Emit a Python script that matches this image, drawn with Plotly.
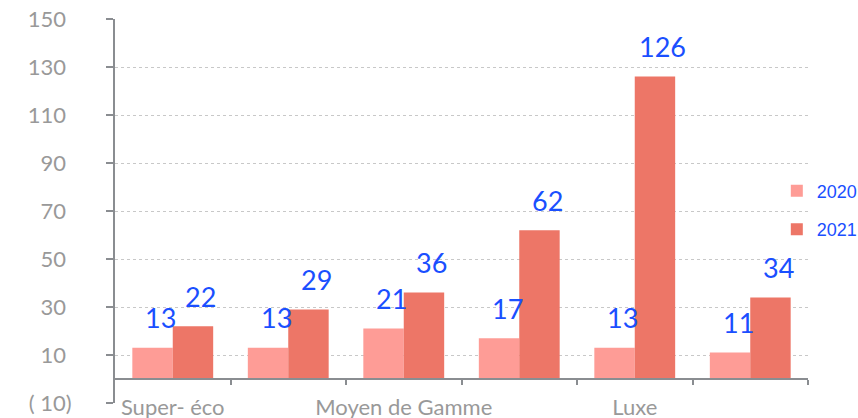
import plotly.graph_objects as go

# ---- data ----
categories = ["Super- éco", " ", "Moyen de Gamme", "  ", "Luxe", "   "]
series_names = ["2020", "2021"]
values_2020 = [13, 13, 21, 17, 13, 11]
values_2021 = [22, 29, 36, 62, 126, 34]
y_tickvals = [-10, 10, 30, 50, 70, 90, 110, 130, 150]
y_ticktext = ["( 10)", "10\u00a0", "30\u00a0", "50\u00a0", "70\u00a0",
              "90\u00a0", "110\u00a0", "130\u00a0", "150\u00a0"]

# ---- style ----
c2020 = "#FE9C96"
c2021 = "#ED7667"
axis_gray = "#8A8D91"
label_gray = "#999999"
blue = "#1A4FFF"
tick_font = dict(family="Lato, 'Open Sans', sans-serif", size=22, color=label_gray)

fig = go.Figure()
fig.add_trace(go.Bar(name=series_names[0], x=categories, y=values_2020,
                     marker=dict(color=c2020, line=dict(width=0)),
                     legendgroup="a"))
fig.add_trace(go.Bar(name=series_names[1], x=categories, y=values_2021,
                     marker=dict(color=c2021, line=dict(width=0)),
                     legendgroup="b"))
# helper (empty) trace so the secondary x axis at y=0 is drawn
fig.add_trace(go.Scatter(x=[], y=[], xaxis="x2", showlegend=False, hoverinfo="skip"))

annotations = []
for vals, dx in ((values_2020, -12), (values_2021, 28)):
    for cat, v in zip(categories, vals):
        annotations.append(dict(x=cat, y=v, xref="x", yref="y", text=str(v),
                                showarrow=False, xshift=dx, yshift=30,
                                yanchor="middle", xanchor="center",
                                font=dict(family="Lato, 'Liberation Sans', sans-serif",
                                          size=27, color=blue)))

n = len(categories)
boundaries = [i + 0.5 for i in range(n)]

fig.update_layout(
    width=858, height=418,
    margin=dict(l=115, r=50, t=19, b=15, autoexpand=False),
    paper_bgcolor="white", plot_bgcolor="white",
    barmode="group", bargap=0.3, bargroupgap=0,
    xaxis=dict(type="category", range=[-0.5, n - 0.5], showline=False,
               ticks="", showgrid=False, zeroline=False,
               tickfont=tick_font, ticklabelstandoff=-11),
    xaxis2=dict(overlaying="x", anchor="free", position=10 / 160,
                type="linear", range=[-0.5, n - 0.5],
                tickmode="array", tickvals=boundaries,
                ticks="outside", ticklen=5, tickwidth=2, tickcolor=axis_gray,
                showline=True, linecolor=axis_gray, linewidth=2,
                showticklabels=False, showgrid=False, zeroline=False),
    yaxis=dict(range=[-10, 150], tickmode="array", tickvals=y_tickvals,
               ticktext=y_ticktext, ticks="outside", ticklen=7, tickwidth=2,
               tickcolor=axis_gray, showline=True, linecolor=axis_gray, linewidth=2,
               showgrid=True, gridcolor="#C8C8C8", griddash="dot", gridwidth=1,
               zeroline=False, tickfont=tick_font, ticklabelstandoff=30),
    legend=dict(x=0.955, xanchor="left", y=0.6, yanchor="top",
                font=dict(family="'Liberation Sans', sans-serif", size=18, color=blue),
                bgcolor="rgba(0,0,0,0)", tracegroupgap=12),
    annotations=annotations,
    showlegend=True,
)

fig.write_html("out.html", config={"displayModeBar": False},
               post_script="document.body.style.margin='0';document.body.style.padding='0';")
